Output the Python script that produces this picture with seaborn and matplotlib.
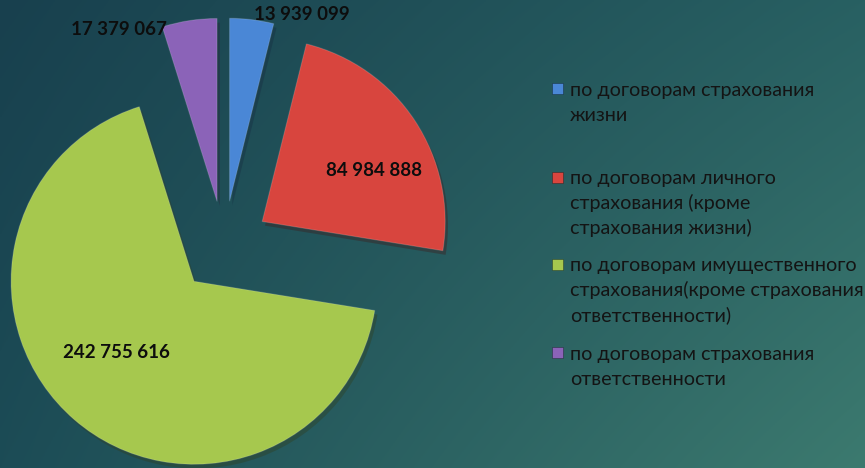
import numpy as np
import matplotlib
matplotlib.use("Agg")
import matplotlib.pyplot as plt
import matplotlib.patheffects as pe
from matplotlib.patches import Rectangle
import seaborn as sns

# ---- data ----
categories = [
    "по договорам страхования\nжизни",
    "по договорам личного\nстрахования (кроме\nстрахования жизни)",
    "по договорам имущественного\nстрахования(кроме страхования\nответственности)",
    "по договорам страхования\nответственности",
]
values = [13939099, 84984888, 242755616, 17379067]
value_labels = ["13 939 099", "84 984 888", "242 755 616", "17 379 067"]
colors = ["#4a87d6", "#d8453e", "#a6c84e", "#8b63b8"]

# label placement (radius, angle in degrees) around pie centre
label_r = [1.336, 0.922, 0.827, 1.319]
label_a = [71.4, 27.0, -135.5, 115.9]

sns.set_theme(style="white")
plt.rcParams["font.family"] = ["Lato", "DejaVu Sans"]

W, H = 865, 468
fig = plt.figure(figsize=(W / 100, H / 100), dpi=100)

# background gradient
bg = fig.add_axes([0, 0, 1, 1])
bg.axis("off")
yy, xx = np.mgrid[0:1:240j, 0:1:440j]
tl = np.array([24, 64, 78]) / 255
tr = np.array([40, 96, 98]) / 255
bl = np.array([28, 76, 86]) / 255
br = np.array([60, 122, 111]) / 255
img = (tl[None, None] * ((1 - xx) * (1 - yy))[..., None]
       + tr[None, None] * (xx * (1 - yy))[..., None]
       + bl[None, None] * ((1 - xx) * yy)[..., None]
       + br[None, None] * (xx * yy)[..., None])
bg.imshow(img, extent=[0, 1, 0, 1], aspect="auto", origin="upper")
bg.set_xlim(0, 1)
bg.set_ylim(0, 1)

# pie
R = 183.0
cx, cy = 224.0, 246.7
ax = fig.add_axes([0, 0, 1, 1])
ax.set_facecolor("none")
wedges, _ = ax.pie(values, colors=colors, startangle=90, counterclock=False,
                   explode=[0.25] * len(values), radius=1,
                   wedgeprops=dict(linewidth=0.8, edgecolor=(1, 1, 1, 0.15)))
for w in wedges:
    w.set_path_effects([pe.SimplePatchShadow(offset=(2, -3), alpha=0.35),
                        pe.Normal()])
ax.set_aspect("auto")
ax.set_xlim(-cx / R, (W - cx) / R)
ax.set_ylim(-(H - cy) / R, cy / R)
ax.axis("off")

for txt, r, a in zip(value_labels, label_r, label_a):
    t = np.deg2rad(a)
    ax.text(r * np.cos(t), r * np.sin(t), txt, ha="center", va="center",
            fontsize=13.5, fontweight="bold", color="#0d0d0d")

# legend
leg_base = [96, 184.5, 271.5, 360]
line_step = 24.6
for lab, col, yb in zip(categories, colors, leg_base):
    fig.patches.append(Rectangle((552 / W, 1 - (yb - 2) / H), 11 / W, 11 / H,
                                 transform=fig.transFigure, facecolor=col,
                                 edgecolor=(0, 0, 0, 0.35), linewidth=0.6))
    for i, line in enumerate(lab.split("\n")):
        fig.text(570 / W, 1 - (yb + i * line_step) / H, line, ha="left",
                 va="baseline", fontsize=14.2, color="#141414")

fig.savefig("out.png", dpi=100)
